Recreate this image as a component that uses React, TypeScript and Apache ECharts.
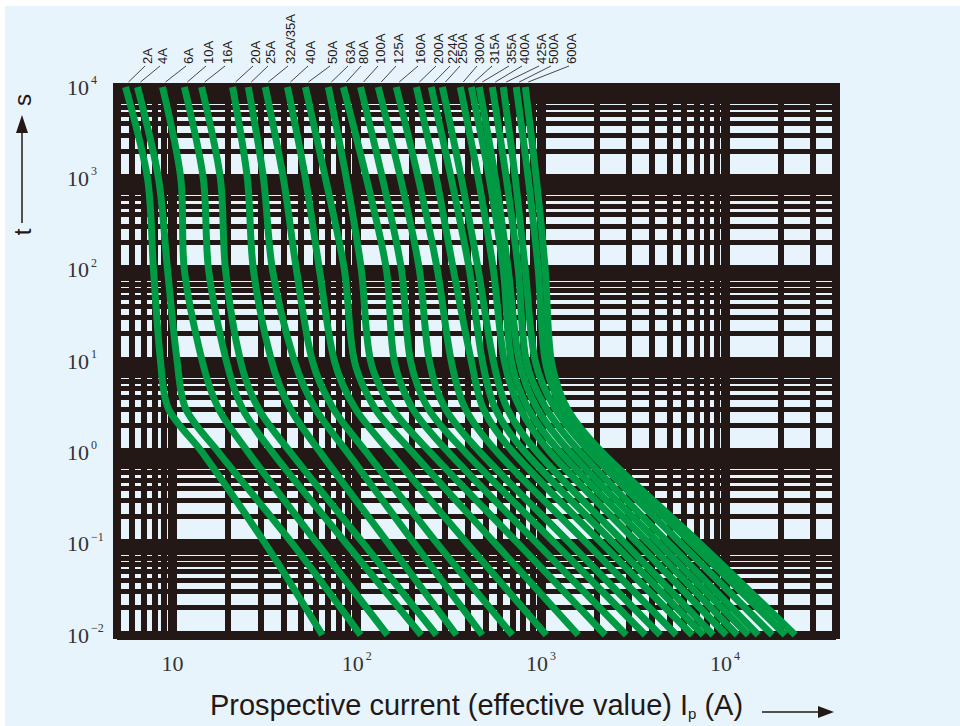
import React, { useEffect, useRef } from "react";
import * as echarts from "echarts";

// time levels (s) at which every curve's current was read
const times = [10000, 1000, 100, 10, 3, 1, 0.1, 0.01];

const ratings = [
  "2A", "4A", "6A", "10A", "16A", "20A", "25A", "32A/35A", "40A", "50A", "63A", "80A", "100A",
  "125A", "160A", "200A", "224A", "250A", "300A", "315A", "355A", "400A", "425A", "500A", "600A",
];

// prospective current (A) for each rating at the time levels above
const i2A = [5.56, 7.32, 7.89, 8.61, 9.51, 14.5, 31.9, 65.1];
const i4A = [6.46, 8.4, 9.4, 10.6, 11.8, 17.8, 44.8, 105];
const i6A = [8.83, 11.1, 11.6, 14.5, 17.8, 25.8, 61.2, 147];
const i10A = [11.6, 14.7, 15.7, 19.6, 24.0, 34.9, 87.9, 224];
const i16A = [14.4, 18.2, 19.4, 23.4, 29.3, 43.7, 109, 271];
const i20A = [21.2, 25.5, 27.5, 34.5, 43.7, 63.5, 149, 348];
const i25A = [25.8, 31.2, 34.9, 45.9, 59.7, 89.0, 206, 481];
const i32A = [31.9, 40.0, 47.1, 57.5, 74.7, 113, 274, 700];
const i40A = [42.1, 52.7, 62.8, 75.7, 98.4, 152, 399, 1070];
const i50A = [52.7, 67.7, 85.8, 97.2, 126, 201, 566, 1595];
const i63A = [70.2, 87.9, 106, 119, 156, 251, 754, 2236];
const i80A = [84.7, 113, 145, 160, 201, 315, 956, 2907];
const i100A = [105, 138, 175, 196, 245, 389, 1197, 3685];
const i125A = [131, 173, 219, 248, 303, 469, 1444, 4445];
const i160A = [164, 216, 274, 326, 389, 580, 1785, 5428];
const i200A = [211, 271, 335, 419, 487, 708, 2154, 6630];
const i224A = [254, 326, 409, 481, 566, 823, 2502, 7607];
const i250A = [292, 370, 457, 552, 657, 956, 2870, 8617];
const i300A = [365, 457, 552, 633, 773, 1125, 3377, 10140];
const i315A = [419, 525, 625, 691, 854, 1275, 3875, 11630];
const i355A = [463, 566, 665, 763, 956, 1444, 4389, 13350];
const i400A = [545, 649, 754, 833, 1070, 1636, 4974, 15120];
const i425A = [625, 726, 823, 932, 1197, 1854, 5777, 18020];
const i500A = [735, 854, 968, 1056, 1307, 2023, 6630, 21190];
const i600A = [823, 944, 1056, 1139, 1391, 2154, 7326, 24010];

const curves = [
  i2A, i4A, i6A, i10A, i16A, i20A, i25A, i32A, i40A, i50A, i63A, i80A, i100A,
  i125A, i160A, i200A, i224A, i250A, i300A, i315A, i355A, i400A, i425A, i500A, i600A,
];

// axis ranges
const xRange = [5, 40000];
const yRange = [0.01, 10000];
const xDecades = [1, 10, 100, 1000, 10000];
const yDecades = [0.01, 0.1, 1, 10, 100, 1000, 10000];

// layout: x pixel of each rotated rating label above the plot
const labelXs = [
  147, 162, 188, 208, 227, 255, 270, 290, 310, 332, 350, 363, 380,
  398, 420, 438, 452, 462, 479, 494, 511, 524, 541, 553, 571,
];

const INK = "#231815";
const GREEN = "#009944";
const SKY = "#e8f4fc";

function gridValues(decades: number[], lo: number, hi: number) {
  const out: { v: number; major: boolean }[] = [];
  decades.forEach((d) => {
    for (let m = 1; m <= 9; m++) {
      const v = m * d;
      if (v >= lo * 0.9999 && v <= hi * 1.0001) out.push({ v, major: m === 1 });
    }
  });
  return out;
}

function powLabel(v: number, plainTen: boolean) {
  const e = Math.round(Math.log10(v));
  if (Math.abs(v - Math.pow(10, e)) > 1e-6 * v) return "";
  if (plainTen && e === 1) return "{b|10}";
  const ex = e < 0 ? "\u2212" + -e : String(e);
  return "{b|10}{s|" + ex + "}";
}

const labelRich = {
  b: { fontFamily: "Liberation Serif", fontSize: 22, color: "#333", lineHeight: 26 },
  s: {
    fontFamily: "Liberation Serif",
    fontSize: 12,
    color: "#333",
    lineHeight: 12,
    verticalAlign: "top" as const,
    padding: [0, 0, 0, 2],
  },
};

export default function App() {
  const ref = useRef<HTMLDivElement>(null);

  useEffect(() => {
    if (!ref.current) return;
    const chart = echarts.init(ref.current, null, { renderer: "svg" });

    const xLines = gridValues(xDecades, xRange[0], xRange[1]).map((g) => ({
      xAxis: g.v,
      lineStyle: { width: g.major ? 9 : 6 },
    }));
    const yLines = gridValues(yDecades, yRange[0], yRange[1]).map((g) => ({
      yAxis: g.v,
      lineStyle: { width: g.major ? 9 : 5 },
    }));

    const option: any = {
      animation: false,
      backgroundColor: "#ffffff",
      grid: {
        left: 117,
        right: 124,
        top: 87,
        bottom: 88,
        show: true,
        backgroundColor: SKY,
        borderColor: INK,
        borderWidth: 8,
      },
      xAxis: {
        type: "log",
        logBase: 10,
        min: xRange[0],
        max: xRange[1],
        axisLine: { show: false },
        axisTick: { show: false },
        splitLine: { show: false },
        axisLabel: {
          margin: 15,
          formatter: (v: number) => powLabel(v, true),
          rich: labelRich,
        },
        name: "Prospective current (effective value) I{sub|p} (A)",
        nameLocation: "middle",
        nameGap: 54,
        nameTextStyle: {
          fontFamily: "Liberation Sans",
          fontSize: 29,
          color: INK,
          lineHeight: 32,
          rich: {
            sub: {
              fontFamily: "Liberation Sans",
              fontSize: 15,
              color: INK,
              lineHeight: 15,
              verticalAlign: "bottom",
            },
          },
        },
      },
      yAxis: {
        type: "log",
        logBase: 10,
        min: yRange[0],
        max: yRange[1],
        axisLine: { show: false },
        axisTick: { show: false },
        splitLine: { show: false },
        axisLabel: {
          align: "left",
          margin: 50,
          formatter: (v: number) => powLabel(v, false),
          rich: labelRich,
        },
      },
      series: [
        {
          type: "line",
          name: "grid",
          data: [[xRange[0], yRange[0]]],
          showSymbol: false,
          lineStyle: { opacity: 0 },
          silent: true,
          z: 1,
          markLine: {
            z: 1,
            silent: true,
            symbol: ["none", "none"],
            label: { show: false },
            emphasis: { disabled: true },
            lineStyle: { color: INK, type: "solid", width: 5, opacity: 1 },
            data: [...xLines, ...yLines],
          },
        },
        ...ratings.map((r, k) => ({
          type: "line",
          name: r,
          data: times.map((t, j) => [curves[k][j], t]),
          showSymbol: false,
          smooth: 0.3,
          silent: true,
          emphasis: { disabled: true },
          lineStyle: { width: 7, color: GREEN, cap: "butt" },
          itemStyle: { color: GREEN },
          z: 10,
        })),
      ],
    };

    chart.setOption(option);

    const graphics: any[] = [
      {
        type: "rect",
        z: -10,
        shape: { x: 5, y: 6, width: 955, height: 720 },
        style: { fill: SKY },
      },
      // y axis title: t ---> s
      {
        type: "text",
        x: 22,
        y: 232,
        rotation: Math.PI / 2,
        style: {
          text: "t",
          fontFamily: "Liberation Sans",
          fontSize: 24,
          fill: INK,
          align: "center",
          verticalAlign: "middle",
        },
      },
      {
        type: "line",
        shape: { x1: 22, y1: 223, x2: 22, y2: 128 },
        style: { stroke: INK, lineWidth: 1.5 },
      },
      {
        type: "polygon",
        shape: { points: [[22, 115], [16, 133], [28, 133]] },
        style: { fill: INK },
      },
      {
        type: "text",
        x: 22,
        y: 100,
        rotation: Math.PI / 2,
        style: {
          text: "s",
          fontFamily: "Liberation Sans",
          fontSize: 24,
          fill: INK,
          align: "center",
          verticalAlign: "middle",
        },
      },
      // x axis title arrow
      {
        type: "line",
        shape: { x1: 762, y1: 712, x2: 822, y2: 712 },
        style: { stroke: INK, lineWidth: 1.5 },
      },
      {
        type: "polygon",
        shape: { points: [[834, 712], [818, 706], [818, 718]] },
        style: { fill: INK },
      },
    ];

    ratings.forEach((r, k) => {
      const top = chart.convertToPixel({ gridIndex: 0 }, [curves[k][0], times[0]]) as number[];
      const lx = labelXs[k];
      graphics.push({
        type: "line",
        shape: { x1: top[0] + 3, y1: 82, x2: lx - 2, y2: 66 },
        style: { stroke: INK, lineWidth: 0.8 },
      });
      graphics.push({
        type: "text",
        x: lx,
        y: 64,
        rotation: Math.PI / 2,
        style: {
          text: r,
          fontFamily: "Liberation Sans",
          fontSize: 13,
          fill: INK,
          align: "left",
          verticalAlign: "middle",
        },
      });
    });

    chart.setOption({ graphic: graphics });

    return () => chart.dispose();
  }, []);

  return (
    <div
      ref={ref}
      style={{ position: "absolute", left: 0, top: 0, width: 960, height: 726 }}
    />
  );
}
